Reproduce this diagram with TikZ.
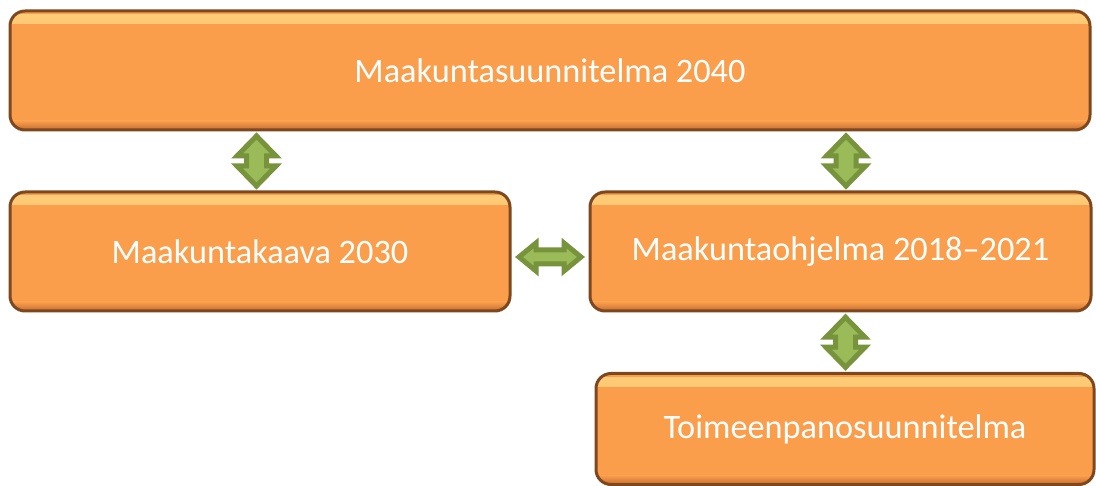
\documentclass[tikz,border=0pt]{standalone}
\usepackage{fontspec}
\setmainfont{Carlito}
\usetikzlibrary{calc}
\definecolor{boxorange}{RGB}{250,158,76}
\definecolor{boxedge}{RGB}{125,72,32}
\definecolor{boxhl}{RGB}{255,205,120}
\definecolor{boxdark}{RGB}{196,108,46}
\definecolor{arrdark}{RGB}{119,147,60}
\definecolor{arrlight}{RGB}{155,187,89}
\tikzset{
 box/.style={rounded corners=15pt, fill=boxorange, draw=boxedge, line width=3pt,
  text=white, font=\fontsize{34.3}{40}\selectfont, inner sep=0pt,
  path picture={
   \fill[sharp corners, top color=boxhl, bottom color=boxorange]
     ([yshift=-4pt]path picture bounding box.north west) rectangle ([yshift=-13pt]path picture bounding box.north east);
   \fill[sharp corners, top color=boxorange, bottom color=boxdark]
     ([yshift=9pt]path picture bounding box.south west) rectangle (path picture bounding box.south east);
  }},
 arr/.style={fill=arrlight, draw=arrdark, line width=5pt, line join=miter}
}
\newcommand\VArr[1]{\draw[arr] (#1) ++(0,-25) -- ++(19.5,20) -- ++(-9.5,0) -- ++(0,10) -- ++(9.5,0) -- ++(-19.5,20) -- ++(-19.5,-20) -- ++(9.5,0) -- ++(0,-10) -- ++(-9.5,0) -- cycle;}
\newcommand\HArr[1]{\draw[arr] (#1) ++(-31,0) -- ++(17,-14) -- ++(0,7) -- ++(28,0) -- ++(0,-7) -- ++(17,14) -- ++(-17,14) -- ++(0,-7) -- ++(-28,0) -- ++(0,7) -- cycle;}
\begin{document}
\begin{tikzpicture}[x=1pt,y=-1pt]
\useasboundingbox (0,0) rectangle (1096,486);
\node[box, minimum width=1080pt, minimum height=119pt] (top) at (550,70.5) {Maakuntasuunnitelma 2040};
\node[box, minimum width=500pt, minimum height=119pt] (kaava) at (260,251.5) {Maakuntakaava 2030};
\node[box, minimum width=501pt, minimum height=119pt] (ohj) at (840.5,251.5) {Maakuntaohjelma 2018–2021};
\node[box, minimum width=498pt, minimum height=111pt] (toim) at (845,429) {Toimeenpanosuunnitelma};
\coordinate (a1) at ($(top.south -| 256.5,0)!0.5!(kaava.north -| 256.5,0)$);
\coordinate (a2) at ($(top.south -| 846,0)!0.5!(ohj.north -| 846,0)$);
\coordinate (a3) at ($(kaava.east)!0.5!(ohj.west)+(0,5.5)$);
\coordinate (a4) at ($(ohj.south -| 845.5,0)!0.5!(toim.north -| 845.5,0)$);
\VArr{a1}
\VArr{a2}
\HArr{a3}
\VArr{a4}
\end{tikzpicture}
\end{document}
